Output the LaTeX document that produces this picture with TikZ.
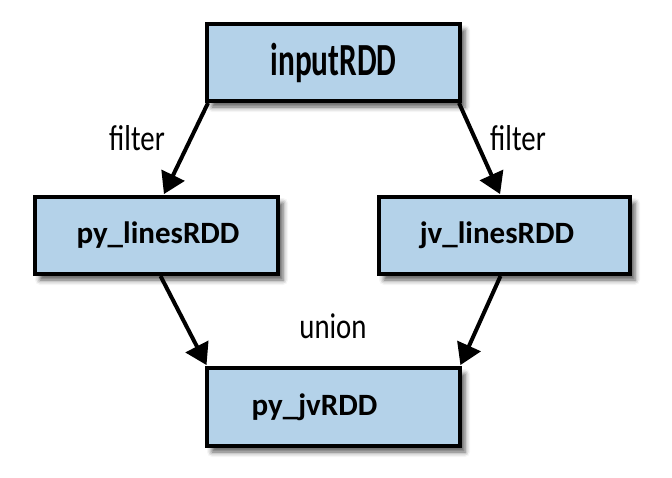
\documentclass[tikz,border=0pt]{standalone}
\usepackage{fontspec}
\setmainfont{Carlito}
\newfontfamily\condbold[FakeStretch=0.68]{Carlito}
\newfontfamily\condreg[FakeStretch=0.8]{Carlito}
\usetikzlibrary{arrows.meta,calc,shadows.blur}
\definecolor{boxfill}{HTML}{B4D2E9}
\tikzset{
  rdd/.style={draw=black, line width=4pt, fill=boxfill, minimum height=77pt,
    inner sep=0pt, font=\bfseries\fontsize{31}{31}\selectfont,
    blur shadow={shadow xshift=5pt, shadow yshift=-6pt, shadow blur radius=5pt, shadow opacity=65}},
  flow/.style={line width=4pt, -{Triangle[length=21pt,width=25pt]}, shorten >=1pt},
  lab/.style={font=\condreg\fontsize{36}{36}\selectfont, inner sep=0pt}
}
\begin{document}
\begin{tikzpicture}[x=1pt,y=-1pt]
\useasboundingbox (0,0) rectangle (672,477);
\node[rdd, minimum width=253pt] (in) at (333.5,62.5) {\condbold\fontsize{46}{46}\selectfont\bfseries inputRDD};
\node[rdd, minimum width=243pt] (pl) at (156.5,235.5) {\hspace*{3pt}py\_linesRDD};
\node[rdd, minimum width=251pt] (jl) at (504.5,235.5) {jv\_linesRDD\hspace*{15pt}};
\node[rdd, minimum width=253pt, minimum height=78pt] (pj) at (333.5,407) {py\_jvRDD\hspace*{38pt}};
\draw[flow] ($(in.south west)+(3,0)$) -- ($(pl.north)+(7,0)$);
\draw[flow] ($(in.south east)+(-3,0)$) -- ($(jl.north)+(-4,0)$);
\draw[flow] ($(pl.south)+(4,0)$) -- ($(pj.north west)+(2,0)$);
\draw[flow] ($(jl.south)+(-4,0)$) -- ($(pj.north east)+(-2,0)$);
\node[lab] (f1) at (137,138) {filter};
\node[lab] (f2) at (518,138) {filter};
\node[lab] (u) at (333,326) {union};
\end{tikzpicture}
\end{document}
